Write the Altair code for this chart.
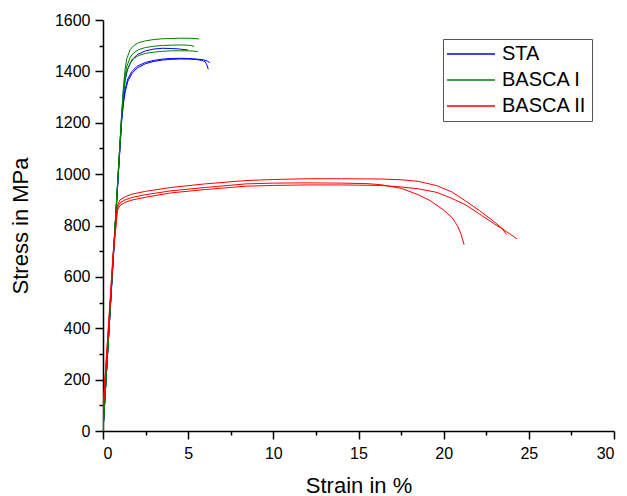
import altair as alt
import pandas as pd

# ---- data ----
series_names = ["STA", "BASCA I", "BASCA II"]
series_colors = ["#0000ff", "#008000", "#ff0000"]

x_major = [0, 5, 10, 15, 20, 25, 30]
x_minor = [2.5, 7.5, 12.5, 17.5, 22.5, 27.5]
y_major = [0, 200, 400, 600, 800, 1000, 1200, 1400, 1600]
y_minor = [100, 300, 500, 700, 900, 1100, 1300, 1500]

sta1_strain = [0, 0.3, 0.6, 0.9, 1.1, 1.2, 1.3, 1.45, 1.7, 2.0, 2.5, 3.0, 3.5, 4.0, 4.5, 5.0]
sta1_stress = [0, 335, 670, 1005, 1230, 1310, 1365, 1410, 1445, 1465, 1480, 1487, 1490, 1489, 1487, 1483]

sta2_strain = [0, 0.3, 0.6, 0.9, 1.1, 1.2, 1.3, 1.45, 1.7, 2.0, 2.5, 3.0, 3.5, 4.0, 4.5, 5.0, 5.5, 5.9, 6.1, 6.27]
sta2_stress = [0, 335, 670, 1000, 1215, 1285, 1330, 1370, 1400, 1420, 1435, 1443, 1448, 1450, 1451, 1450, 1448, 1445, 1441, 1434]

sta3_strain = [0, 0.3, 0.6, 0.9, 1.1, 1.2, 1.3, 1.45, 1.7, 2.0, 2.5, 3.0, 3.5, 4.0, 4.5, 5.0, 5.5, 5.8, 6.0, 6.1, 6.18]
sta3_stress = [0, 335, 670, 1000, 1210, 1275, 1320, 1360, 1392, 1413, 1430, 1439, 1444, 1447, 1448, 1448, 1446, 1443, 1438, 1425, 1408]

b1a_strain = [0, 0.3, 0.6, 0.9, 1.1, 1.2, 1.3, 1.4, 1.6, 1.8, 2.1, 2.5, 3.0, 3.5, 4.0, 4.5, 5.0, 5.4, 5.65]
b1a_stress = [0, 340, 680, 1015, 1240, 1340, 1410, 1450, 1485, 1500, 1512, 1519, 1524, 1527, 1528, 1529, 1529, 1528, 1526]

b1b_strain = [0, 0.3, 0.6, 0.9, 1.1, 1.2, 1.3, 1.4, 1.6, 1.8, 2.1, 2.5, 3.0, 3.5, 4.0, 4.5, 5.0, 5.2, 5.35]
b1b_stress = [0, 340, 680, 1015, 1235, 1325, 1385, 1420, 1455, 1472, 1485, 1493, 1498, 1501, 1502, 1503, 1502, 1500, 1497]

b1c_strain = [0, 0.3, 0.6, 0.9, 1.1, 1.2, 1.3, 1.4, 1.6, 1.8, 2.1, 2.5, 3.0, 3.5, 4.0, 4.5, 5.0, 5.3, 5.57]
b1c_stress = [0, 340, 680, 1010, 1230, 1315, 1370, 1400, 1432, 1450, 1462, 1470, 1475, 1478, 1480, 1480, 1480, 1479, 1477]

b2a_strain = [0, 0.3, 0.6, 0.85, 1.0, 1.3, 1.7, 2.5, 4, 6, 8.4, 10, 12, 14, 16.3, 17.5, 18.5, 19.6, 20.5, 21.3, 22.1, 23, 23.4, 23.7]
b2a_stress = [80, 380, 690, 880, 900, 912, 922, 933, 948, 962, 975, 979, 982, 982, 981, 978, 972, 955, 930, 895, 858, 813, 790, 765]

b2b_strain = [0, 0.3, 0.6, 0.85, 1.0, 1.3, 1.7, 2.5, 4, 6, 8.4, 10, 12, 14, 15.5, 16.3, 17.5, 18.5, 19.2, 20, 20.5, 20.8, 21.0, 21.2]
b2b_stress = [90, 390, 700, 870, 888, 900, 909, 920, 935, 948, 962, 965, 966, 965, 963, 959, 945, 920, 897, 860, 830, 800, 770, 725]

b2c_strain = [0, 0.3, 0.6, 0.85, 1.0, 1.3, 1.7, 2.5, 4, 6, 8.4, 10, 12, 14, 16.3, 17.5, 18.5, 19.6, 20.5, 21.3, 22.1, 23, 23.6, 24.0, 24.3]
b2c_stress = [70, 370, 680, 860, 878, 890, 899, 910, 927, 940, 953, 956, 958, 958, 956, 950, 943, 929, 905, 880, 845, 805, 780, 762, 748]

curves = [
    ("STA", "sta1", sta1_strain, sta1_stress),
    ("STA", "sta2", sta2_strain, sta2_stress),
    ("STA", "sta3", sta3_strain, sta3_stress),
    ("BASCA I", "b1a", b1a_strain, b1a_stress),
    ("BASCA I", "b1b", b1b_strain, b1b_stress),
    ("BASCA I", "b1c", b1c_strain, b1c_stress),
    ("BASCA II", "b2a", b2a_strain, b2a_stress),
    ("BASCA II", "b2b", b2b_strain, b2b_stress),
    ("BASCA II", "b2c", b2c_strain, b2c_stress),
]

rows = []
for s, cid, xs, ys in curves:
    for i, (xv, yv) in enumerate(zip(xs, ys)):
        rows.append({"series": s, "curve": cid, "idx": i, "strain": xv, "stress": yv})
df = pd.DataFrame(rows)

FONT = "Liberation Sans"
xscale = alt.Scale(domain=[0, 30], nice=False, zero=False)
yscale = alt.Scale(domain=[0, 1600], nice=False, zero=False)

major_common = dict(
    grid=False, domainColor="#000000", domainWidth=1.5, tickColor="#000000", tickWidth=1.5,
    tickSize=8, labelFont=FONT, labelFontSize=16, labelColor="#000000", format="d",
    titleFont=FONT, titleFontSize=22, titleFontWeight="normal", titleColor="#000000",
)

main = alt.Chart(df).mark_line(strokeWidth=1, clip=True).encode(
    x=alt.X("strain:Q", scale=xscale,
            axis=alt.Axis(values=x_major, title="Strain in %", orient="bottom",
                          labelPadding=6, titlePadding=14, **major_common)),
    y=alt.Y("stress:Q", scale=yscale,
            axis=alt.Axis(values=y_major, title="Stress in MPa", orient="left",
                          labelPadding=5, titlePadding=22, **major_common)),
    color=alt.Color("series:N",
                    scale=alt.Scale(domain=series_names, range=series_colors),
                    legend=alt.Legend(
                        title=None, orient="none", legendX=340, legendY=19,
                        symbolType="M-4,0H4", symbolSize=144, symbolStrokeWidth=1.5,
                        symbolOffset=13, labelOffset=21,
                        labelFont=FONT, labelFontSize=20, labelColor="#000000",
                        rowPadding=6, padding=5, strokeColor="#555555",
                        fillColor="#ffffff",
                    )),
    detail="curve:N",
    order="idx:Q",
)

minor_common = dict(grid=False, domain=False, labels=False, title=None,
                    tickColor="#000000", tickWidth=1.5, tickSize=4)

minor = alt.Chart(df).mark_point(opacity=0).encode(
    x=alt.X("strain:Q", scale=xscale, axis=alt.Axis(values=x_minor, orient="bottom", **minor_common)),
    y=alt.Y("stress:Q", scale=yscale, axis=alt.Axis(values=y_minor, orient="left", **minor_common)),
)

chart = alt.layer(minor, main).resolve_axis(x="independent", y="independent").properties(
    width=511, height=411,
    autosize=alt.AutoSizeParams(type="none"),
    padding={"left": 95, "top": 12, "right": 3, "bottom": 65},
).configure_view(stroke=None)

chart.save("out.html", embed_options={"renderer": "svg", "actions": False})
